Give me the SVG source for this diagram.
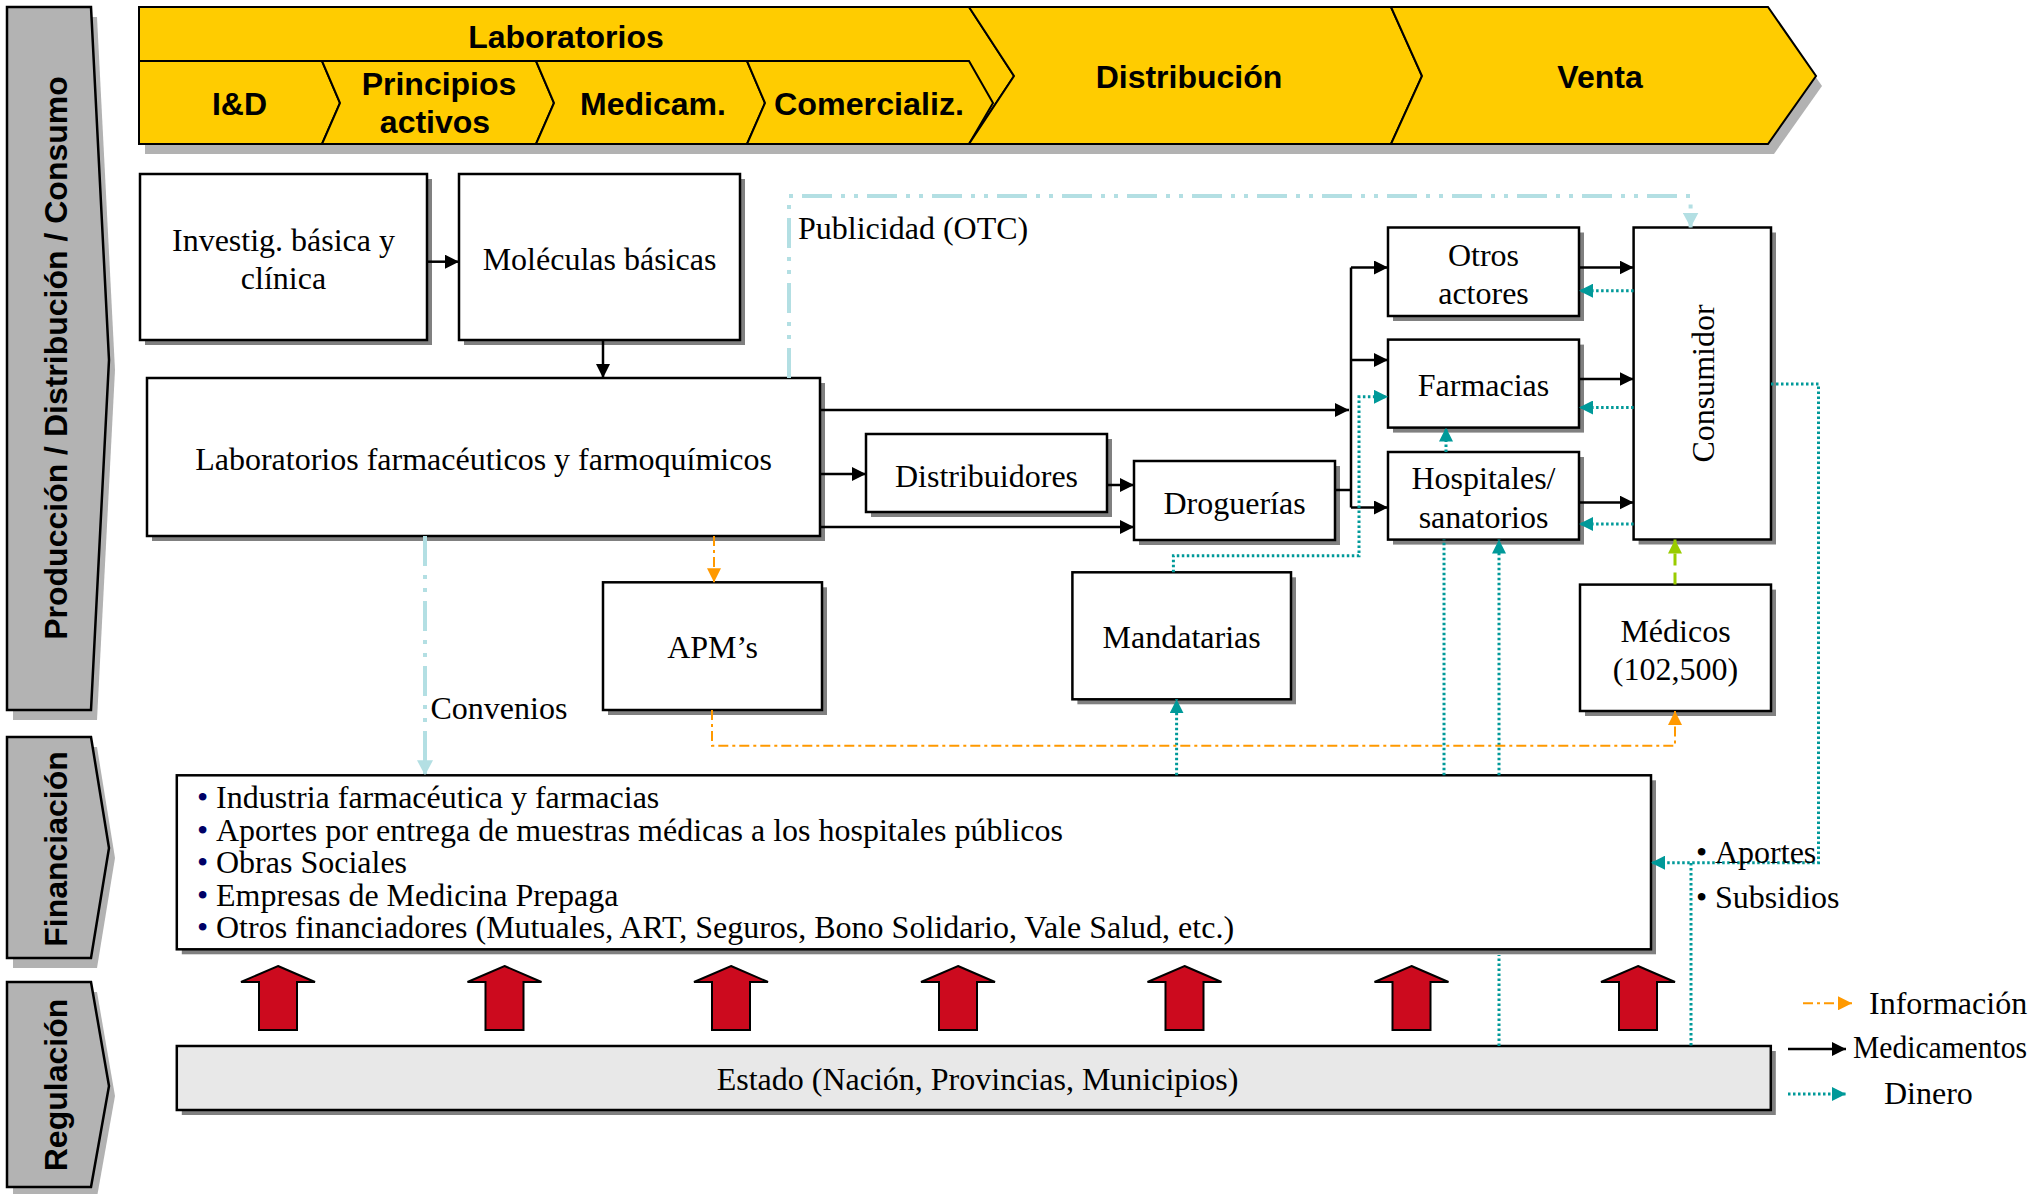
<svg xmlns="http://www.w3.org/2000/svg" width="2038" height="1194" viewBox="0 0 2038 1194">
<style>
.box{fill:#fff;stroke:#000;stroke-width:2.5}
.sh{fill:#808080}
.chev{fill:#ffcc00;stroke:#000;stroke-width:2;stroke-linejoin:miter}
.ban{fill:#b3b3b3;stroke:#000;stroke-width:2.5}
.bsh{fill:#b2b2b2}
.hd{font-family:"Liberation Sans",Arial,sans-serif;font-weight:bold;font-size:32px;fill:#000;text-anchor:middle}
.t{font-family:"Liberation Serif","Times New Roman",serif;font-size:32px;fill:#000}
.c{text-anchor:middle}
.blk{fill:none;stroke:#000;stroke-width:2.5}
.teal{fill:none;stroke:#009999;stroke-width:3;stroke-dasharray:2.5 2.5}
.org{fill:none;stroke:#ff9900;stroke-width:2;stroke-dasharray:10 4 3 4}
.cyan{fill:none;stroke:#b3dfe3;stroke-width:4;stroke-dasharray:30 9 4 9 4 9}
.grn{fill:none;stroke:#99cc00;stroke-width:3;stroke-dasharray:12 7}
.red{fill:#cc0a1e;stroke:#000;stroke-width:2}
</style>
<defs>
<marker id="aB" viewBox="0 0 14 14" refX="14" refY="7" markerWidth="14" markerHeight="14" markerUnits="userSpaceOnUse" orient="auto"><path d="M0,0 L14,7 L0,14 z" fill="#000"/></marker>
<marker id="aT" viewBox="0 0 14 14" refX="14" refY="7" markerWidth="14" markerHeight="14" markerUnits="userSpaceOnUse" orient="auto"><path d="M0,0 L14,7 L0,14 z" fill="#009999"/></marker>
<marker id="aO" viewBox="0 0 14 14" refX="14" refY="7" markerWidth="14" markerHeight="14" markerUnits="userSpaceOnUse" orient="auto"><path d="M0,0 L14,7 L0,14 z" fill="#ff9900"/></marker>
<marker id="aC" viewBox="0 0 15 16" refX="15" refY="8" markerWidth="15" markerHeight="16" markerUnits="userSpaceOnUse" orient="auto"><path d="M0,0 L15,8 L0,16 z" fill="#b3dfe3"/></marker>
<marker id="aG" viewBox="0 0 14 14" refX="14" refY="7" markerWidth="14" markerHeight="14" markerUnits="userSpaceOnUse" orient="auto"><path d="M0,0 L14,7 L0,14 z" fill="#99cc00"/></marker>
</defs>

<g id="banner-produccion">
<polygon class="bsh" points="13,17 97,17 115,370 97,720 13,720"/>
<polygon class="ban" points="7,7 91,7 109,360 91,710 7,710"/>
<text class="hd" transform="translate(67,358) rotate(-90)">Producción / Distribución / Consumo</text>
</g>
<g id="banner-financiacion">
<polygon class="bsh" points="13,747 97,747 115,858 97,968 13,968"/>
<polygon class="ban" points="7,737 91,737 109,848 91,958 7,958"/>
<text class="hd" transform="translate(67,849) rotate(-90)">Financiación</text>
</g>
<g id="banner-regulacion">
<polygon class="bsh" points="13,992 97,992 115,1096 97,1197 13,1197"/>
<polygon class="ban" points="7,982 91,982 109,1086 91,1187 7,1187"/>
<text class="hd" transform="translate(67,1085) rotate(-90)">Regulación</text>
</g>

<g id="chevrons">
<polygon class="bsh" points="145,17 1774,17 1822,86 1774,154 145,154"/>
<g id="chev-laboratorios"><polygon class="chev" points="139,7 969,7 1014,76 969,144 139,144"/><text class="hd" x="566" y="48">Laboratorios</text></g>
<g id="chev-id"><polygon class="chev" points="139,61 322,61 340,103 322,144 139,144"/><text class="hd" x="239.5" y="115">I&amp;D</text></g>
<g id="chev-principios"><polygon class="chev" points="322,61 536,61 554,103 536,144 322,144 340,103"/><text class="hd" x="439" y="95">Principios</text><text class="hd" x="435" y="133">activos</text></g>
<g id="chev-medicam"><polygon class="chev" points="536,61 747,61 765,103 747,144 536,144 554,103"/><text class="hd" x="653" y="115">Medicam.</text></g>
<g id="chev-comercializ"><polygon class="chev" points="747,61 969,61 993,103 969,144 747,144 765,103"/><text class="hd" x="869" y="115" textLength="190" lengthAdjust="spacingAndGlyphs">Comercializ.</text></g>
<g id="chev-distribucion"><polygon class="chev" points="969,7 1391,7 1422,76 1391,144 969,144 1014,76"/><text class="hd" x="1189" y="88">Distribución</text></g>
<g id="chev-venta"><polygon class="chev" points="1391,7 1768,7 1816,76 1768,144 1391,144 1422,76"/><text class="hd" x="1600" y="88">Venta</text></g>
</g>

<g id="investig"><rect class="sh" x="145" y="179" width="287" height="166"/><rect class="box" x="140" y="174" width="287" height="166"/><text class="t c" x="283.5" y="250.5">Investig. básica y</text><text class="t c" x="283.5" y="289">clínica</text></g>
<g id="moleculas"><rect class="sh" x="464" y="179" width="281" height="166"/><rect class="box" x="459" y="174" width="281" height="166"/><text class="t c" x="599.5" y="269.5">Moléculas básicas</text></g>
<g id="laboratorios"><rect class="sh" x="152" y="383" width="673" height="158"/><rect class="box" x="147" y="378" width="673" height="158"/><text class="t c" x="483.5" y="469.5">Laboratorios farmacéuticos y farmoquímicos</text></g>
<g id="distribuidores"><rect class="sh" x="871" y="439" width="241" height="78"/><rect class="box" x="866" y="434" width="241" height="78"/><text class="t c" x="986.5" y="486.5">Distribuidores</text></g>
<g id="droguerias"><rect class="sh" x="1139" y="466" width="201" height="79"/><rect class="box" x="1134" y="461" width="201" height="79"/><text class="t c" x="1234.5" y="513.5">Droguerías</text></g>
<g id="otros"><rect class="sh" x="1393" y="232.5" width="191" height="88.5"/><rect class="box" x="1388" y="227.5" width="191" height="88.5"/><text class="t c" x="1483.5" y="265.5">Otros</text><text class="t c" x="1483.5" y="304">actores</text></g>
<g id="farmacias"><rect class="sh" x="1393" y="344.6" width="191" height="88"/><rect class="box" x="1388" y="339.6" width="191" height="88"/><text class="t c" x="1483.5" y="395.5">Farmacias</text></g>
<g id="hospitales"><rect class="sh" x="1393" y="457" width="191" height="87.6"/><rect class="box" x="1388" y="452" width="191" height="87.6"/><text class="t c" x="1483.5" y="488.5">Hospitales/</text><text class="t c" x="1483.5" y="528">sanatorios</text></g>
<g id="consumidor"><rect class="sh" x="1638.6" y="232.5" width="137.4" height="312"/><rect class="box" x="1633.6" y="227.5" width="137.4" height="312"/><text class="t c" transform="translate(1714,383.5) rotate(-90)">Consumidor</text></g>
<g id="medicos"><rect class="sh" x="1585" y="589.6" width="191" height="126.4"/><rect class="box" x="1580" y="584.6" width="191" height="126.4"/><text class="t c" x="1675.5" y="642">Médicos</text><text class="t c" x="1675.5" y="679.5">(102,500)</text></g>
<g id="apms"><rect class="sh" x="608" y="587.3" width="219" height="127.7"/><rect class="box" x="603" y="582.3" width="219" height="127.7"/><text class="t c" x="712.5" y="658">APM’s</text></g>
<g id="mandatarias"><rect class="sh" x="1077.4" y="577.3" width="218.6" height="127"/><rect class="box" x="1072.4" y="572.3" width="218.6" height="127"/><text class="t c" x="1181.7" y="647.5">Mandatarias</text></g>
<g id="financiacion"><rect class="sh" x="181.8" y="780.3" width="1474.2" height="174"/><rect class="box" x="176.8" y="775.3" width="1474.2" height="174"/>
<text class="t" x="197" y="807.5"><tspan fill="#000066">•</tspan><tspan x="216">Industria farmacéutica y farmacias</tspan></text>
<text class="t" x="197" y="840.5"><tspan fill="#000066">•</tspan><tspan x="216">Aportes por entrega de muestras médicas a los hospitales públicos</tspan></text>
<text class="t" x="197" y="873"><tspan fill="#000066">•</tspan><tspan x="216">Obras Sociales</tspan></text>
<text class="t" x="197" y="905.5"><tspan fill="#000066">•</tspan><tspan x="216">Empresas de Medicina Prepaga</tspan></text>
<text class="t" x="197" y="938"><tspan fill="#000066">•</tspan><tspan x="216">Otros financiadores (Mutuales, ART, Seguros, Bono Solidario, Vale Salud, etc.)</tspan></text>
</g>
<g id="estado"><rect class="sh" x="181.8" y="1051" width="1594" height="64"/><rect class="box" x="176.8" y="1046" width="1594" height="64" style="fill:#e8e8e8"/><text class="t c" x="977.5" y="1090">Estado (Nación, Provincias, Municipios)</text></g>

<g id="regulacion-arrows">
<polygon class="red" points="278,966 315,982 297,982 297,1030 259,1030 259,982 241,982"/>
<polygon class="red" points="504.5,966 541.5,982 523.5,982 523.5,1030 485.5,1030 485.5,982 467.5,982"/>
<polygon class="red" points="731,966 768,982 750,982 750,1030 712,1030 712,982 694,982"/>
<polygon class="red" points="958,966 995,982 977,982 977,1030 939,1030 939,982 921,982"/>
<polygon class="red" points="1184.5,966 1221.5,982 1203.5,982 1203.5,1030 1165.5,1030 1165.5,982 1147.5,982"/>
<polygon class="red" points="1411.5,966 1448.5,982 1430.5,982 1430.5,1030 1392.5,1030 1392.5,982 1374.5,982"/>
<polygon class="red" points="1638,966 1675,982 1657,982 1657,1030 1619,1030 1619,982 1601,982"/>
</g>

<g id="connectors">
<path class="blk" d="M427,261.7 H459" marker-end="url(#aB)"/>
<path class="blk" d="M603,340 V378" marker-end="url(#aB)"/>
<path class="blk" d="M820,410 H1349" marker-end="url(#aB)"/>
<path class="blk" d="M820,474 H866" marker-end="url(#aB)"/>
<path class="blk" d="M820,527 H1134" marker-end="url(#aB)"/>
<path class="blk" d="M1107,485 H1134" marker-end="url(#aB)"/>
<path class="blk" d="M1335,490 H1351"/>
<path class="blk" d="M1351,267.5 V507.5"/>
<path class="blk" d="M1351,267.5 H1388" marker-end="url(#aB)"/>
<path class="blk" d="M1351,360 H1388" marker-end="url(#aB)"/>
<path class="blk" d="M1351,507.5 H1388" marker-end="url(#aB)"/>
<path class="blk" d="M1579,267.5 H1633.6" marker-end="url(#aB)"/>
<path class="blk" d="M1579,379 H1633.6" marker-end="url(#aB)"/>
<path class="blk" d="M1579,502.5 H1633.6" marker-end="url(#aB)"/>

<path class="teal" d="M1633.6,290.7 H1579" marker-end="url(#aT)"/>
<path class="teal" d="M1633.6,407.5 H1579" marker-end="url(#aT)"/>
<path class="teal" d="M1633.6,524 H1579" marker-end="url(#aT)"/>
<path class="teal" d="M1446,452 V427.6" marker-end="url(#aT)"/>
<path class="teal" d="M1173.4,572.3 V555.7 H1359 V396.8 H1388" marker-end="url(#aT)"/>
<path class="teal" d="M1176.6,775.3 V699.3" marker-end="url(#aT)"/>
<path class="teal" d="M1444,775.3 V539.6"/>
<path class="teal" d="M1499,1046 V955"/>
<path class="teal" d="M1499,775.3 V539.6" marker-end="url(#aT)"/>
<path class="teal" d="M1771,384 H1818.5 V862.7 H1651" marker-end="url(#aT)"/>
<path class="teal" d="M1691,863 V1046"/>

<path class="org" d="M714,536 V582.3" marker-end="url(#aO)"/>
<path class="org" d="M712,710 V745.7 H1675 V711" marker-end="url(#aO)"/>
<path class="grn" d="M1675,584.6 V539.6" marker-end="url(#aG)"/>
<path class="cyan" d="M789,378 V196 H1690.6 V227.5" marker-end="url(#aC)"/>
<path class="cyan" d="M425,536 V775.3" marker-end="url(#aC)"/>
</g>

<g id="connector-labels">
<text class="t" x="798" y="238.5">Publicidad (OTC)</text>
<text class="t" x="430.5" y="718.5">Convenios</text>
<text class="t" x="1696" y="863">•</text><text class="t" x="1715" y="863">Aportes</text>
<text class="t" x="1696" y="908">•</text><text class="t" x="1715" y="908">Subsidios</text>
</g>

<g id="legend">
<path class="org" d="M1803,1003.3 H1852" marker-end="url(#aO)"/>
<path class="blk" d="M1788,1049 H1846" marker-end="url(#aB)"/>
<path class="teal" d="M1788,1094 H1846" marker-end="url(#aT)"/>
<text class="t" x="1869" y="1014">Información</text>
<text class="t" x="1853" y="1058" textLength="174" lengthAdjust="spacingAndGlyphs">Medicamentos</text>
<text class="t" x="1884" y="1104">Dinero</text>
</g>
</svg>
